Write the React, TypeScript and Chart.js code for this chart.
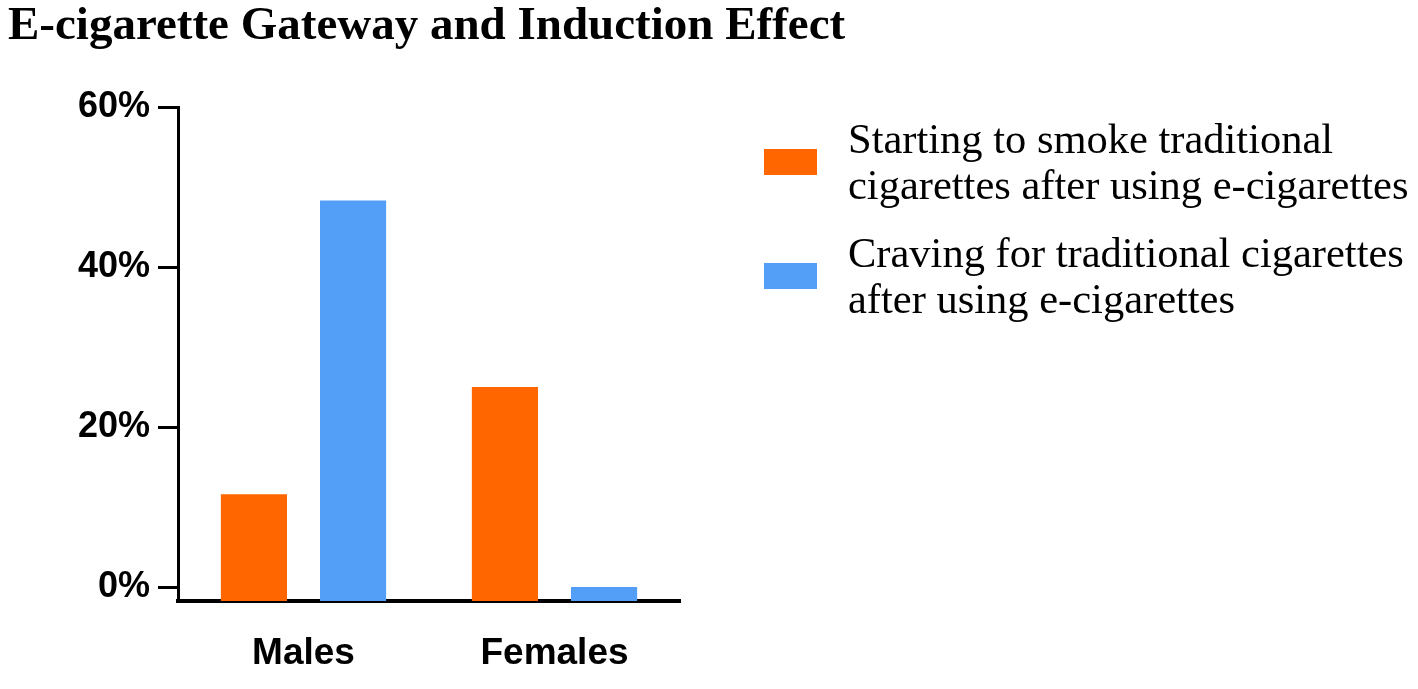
import { useEffect, useRef } from "react";
import { Chart, registerables } from "chart.js";

Chart.register(...registerables);

const chartTitle = "E-cigarette Gateway and Induction Effect";
const categories = ["Males", "Females"];
const startingValues = [11.6, 25.0];
const cravingValues = [48.3, 0];
const seriesLines = [
  ["Starting to smoke traditional", "cigarettes after using e-cigarettes"],
  ["Craving for traditional cigarettes", "after using e-cigarettes"],
];
const seriesColors = ["#ff6600", "#539ff8"];
const yTicks = [0, 20, 40, 60];
const yMin = -1.75;
const yMax = 60;

const sansFamily = "'Liberation Sans', Arial, sans-serif";
const serif = "'Liberation Serif', 'Times New Roman', serif";

function GatewayChart() {
  const canvasRef = useRef<HTMLCanvasElement>(null);

  useEffect(() => {
    const canvas = canvasRef.current;
    if (!canvas) return;
    const chart = new Chart(canvas, {
      type: "bar",
      data: {
        labels: categories,
        datasets: [startingValues, cravingValues].map((values, i) => ({
          label: seriesLines[i].join(" "),
          data: values,
          backgroundColor: seriesColors[i],
          base: yMin,
          barPercentage: 0.667,
          categoryPercentage: 0.79,
        })),
      },
      options: {
        responsive: true,
        maintainAspectRatio: false,
        animation: false,
        layout: { padding: { left: 8, right: 738, top: 107, bottom: 0 } },
        plugins: {
          legend: { display: false },
          tooltip: { enabled: false },
        },
        scales: {
          x: {
            afterFit: (scale) => {
              scale.height = 88;
            },
            grid: { display: false, drawTicks: false },
            border: { display: true, color: "#000", width: 4 },
            ticks: { color: "#000", padding: 31, font: { family: sansFamily, size: 37, weight: "bold" } },
          },
          y: {
            min: yMin,
            max: yMax,
            afterBuildTicks: (scale) => {
              scale.ticks = yTicks.map((value) => ({ value }));
            },
            afterFit: (scale) => {
              scale.width = 170;
            },
            grid: { drawOnChartArea: false, drawTicks: true, tickLength: 20, tickWidth: 3, tickColor: "#000" },
            border: { display: true, color: "#000", width: 3 },
            ticks: {
              color: "#000",
              padding: 8,
              font: { family: sansFamily, size: 36, weight: "bold" },
              callback: (v) => `${v}%`,
            },
          },
        },
      },
    });
    return () => chart.destroy();
  }, []);

  return (
    <div style={{ position: "absolute", left: 0, top: 0, width: 1418, height: 689, background: "#fff" }}>
      <canvas ref={canvasRef}></canvas>
      <div
        style={{
          position: "absolute",
          left: 8,
          top: 0,
          fontFamily: serif,
          fontWeight: "bold",
          fontSize: 47,
          lineHeight: "47px",
          color: "#000",
          whiteSpace: "nowrap",
        }}
      >
        {chartTitle}
      </div>
      <div style={{ position: "absolute", left: 764, top: 116 }}>
        {seriesLines.map((lines, i) => (
          <div key={i} style={{ display: "flex", alignItems: "center", marginBottom: 22 }}>
            <div style={{ width: 53, height: 26, background: seriesColors[i], marginRight: 31 }}></div>
            <div
              style={{
                fontFamily: serif,
                fontSize: 42.5,
                lineHeight: "46px",
                color: "#000",
                whiteSpace: "nowrap",
              }}
            >
              {lines.map((line, j) => (
                <div key={j}>{line}</div>
              ))}
            </div>
          </div>
        ))}
      </div>
    </div>
  );
}

export default function App() {
  return <GatewayChart />;
}
